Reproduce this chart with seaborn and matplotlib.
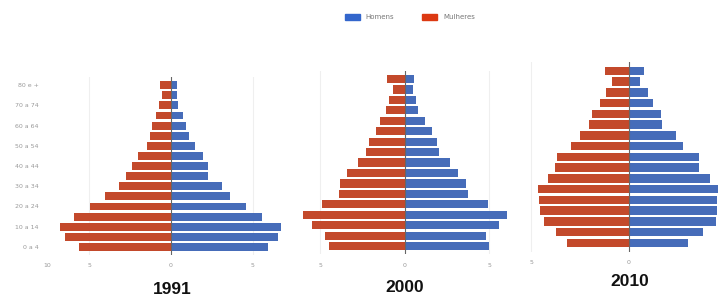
import numpy as np
import pandas as pd
import matplotlib
matplotlib.use('Agg')
import matplotlib.pyplot as plt
import matplotlib.patches as mpatches
import seaborn as sns

ages = ['0 a 4', '5 a 9', '10 a 14', '15 a 19', '20 a 24', '25 a 29', '30 a 34',
        '35 a 39', '40 a 44', '45 a 49', '50 a 54', '55 a 59', '60 a 64',
        '65 a 69', '70 a 74', '75 a 79', '80 e +']
years = ['1991', '2000', '2010']

homens_1991 = [5.96, 6.59, 6.73, 5.55, 4.63, 3.61, 3.10, 2.29, 2.29, 1.98,
               1.47, 1.10, 0.92, 0.76, 0.45, 0.35, 0.35]
mulheres_1991 = [5.63, 6.49, 6.80, 5.94, 4.96, 4.02, 3.20, 2.78, 2.41, 2.02,
                 1.49, 1.31, 1.16, 0.92, 0.71, 0.57, 0.69]
homens_2000 = [5.00, 4.80, 5.57, 6.03, 4.90, 3.75, 3.60, 3.16, 2.70, 2.00,
               1.92, 1.58, 1.22, 0.81, 0.65, 0.49, 0.55]
mulheres_2000 = [4.50, 4.70, 5.50, 6.00, 4.90, 3.90, 3.80, 3.40, 2.75, 2.30,
                 2.10, 1.73, 1.47, 1.12, 0.93, 0.69, 1.03]
homens_2010 = [3.02, 3.82, 4.47, 4.50, 4.50, 4.56, 4.18, 3.57, 3.62, 2.80,
               2.42, 1.69, 1.66, 1.26, 0.97, 0.55, 0.77]
mulheres_2010 = [3.17, 3.75, 4.35, 4.54, 4.62, 4.66, 4.15, 3.80, 3.67, 2.99,
                 2.49, 2.06, 1.88, 1.50, 1.16, 0.87, 1.21]

homens = [homens_1991, homens_2000, homens_2010]
mulheres = [mulheres_1991, mulheres_2000, mulheres_2010]

blue = '#3366cc'
red = '#dc3912'

fig = plt.figure(figsize=(7.19, 2.98), dpi=100)

# axes boxes and x ranges per pyramid
boxes = [[0.0654, 0.1443, 0.338, 0.597],
         [0.410, 0.146, 0.313, 0.617],
         [0.730, 0.156, 0.270, 0.635]]
xlims = [(-7.6, 7.3), (-6.5, 6.8), (-5.33, 4.62)]
xticks = [([-7.6, -5, 0, 5], ['10', '5', '0', '5']),
          ([-5, 0, 5], ['5', '0', '5']),
          ([-5, 0], ['5', '0'])]
title_pos = [(172, 290), (405, 288), (630, 282)]

order = ages[::-1]

for i, year in enumerate(years):
    ax = fig.add_axes(boxes[i])
    df = pd.DataFrame({
        'idade': ages * 2,
        'sexo': ['Homens'] * len(ages) + ['Mulheres'] * len(ages),
        'valor': list(homens[i]) + [-v for v in mulheres[i]],
    })
    sns.barplot(data=df, y='idade', x='valor', hue='sexo', order=order,
                hue_order=['Homens', 'Mulheres'], palette=[blue, red],
                dodge=False, orient='h', width=0.78, errorbar=None,
                legend=False, ax=ax, zorder=2)
    ax.set_xlim(*xlims[i])
    ax.set_ylim(16.8, -0.8)
    for g in [-5, 5]:
        if xlims[i][0] < g < xlims[i][1]:
            ax.axvline(g, color='#efefef', lw=0.8, zorder=0)
    ax.axvline(0, color='#666666', lw=0.8, zorder=3)
    ax.set_xticks(xticks[i][0])
    ax.set_xticklabels(xticks[i][1])
    if i == 0:
        ax.set_yticks(range(0, 17, 2))
        ax.set_yticklabels([order[p] for p in range(0, 17, 2)])
    else:
        ax.set_yticks([])
    ax.tick_params(length=0, labelsize=4.5, labelcolor='#999999', pad=6)
    ax.set_xlabel('')
    ax.set_ylabel('')
    for s in ax.spines.values():
        s.set_visible(False)
    ax.patch.set_alpha(0)
    fig.text(title_pos[i][0] / 719, 1 - title_pos[i][1] / 298, year,
             ha='center', va='center', fontsize=12.5, fontweight='bold',
             family=['Liberation Sans', 'DejaVu Sans'], color='#111111')

handles = [mpatches.Patch(color=blue, label='Homens'),
           mpatches.Patch(color=red, label='Mulheres')]
fig.legend(handles=handles, loc='center', bbox_to_anchor=(0.57, 0.943),
           ncol=2, frameon=False, fontsize=5, handlelength=2.2,
           handleheight=1.1, columnspacing=4, labelcolor='#777777')

fig.savefig('out.png', dpi=100, facecolor='white')
